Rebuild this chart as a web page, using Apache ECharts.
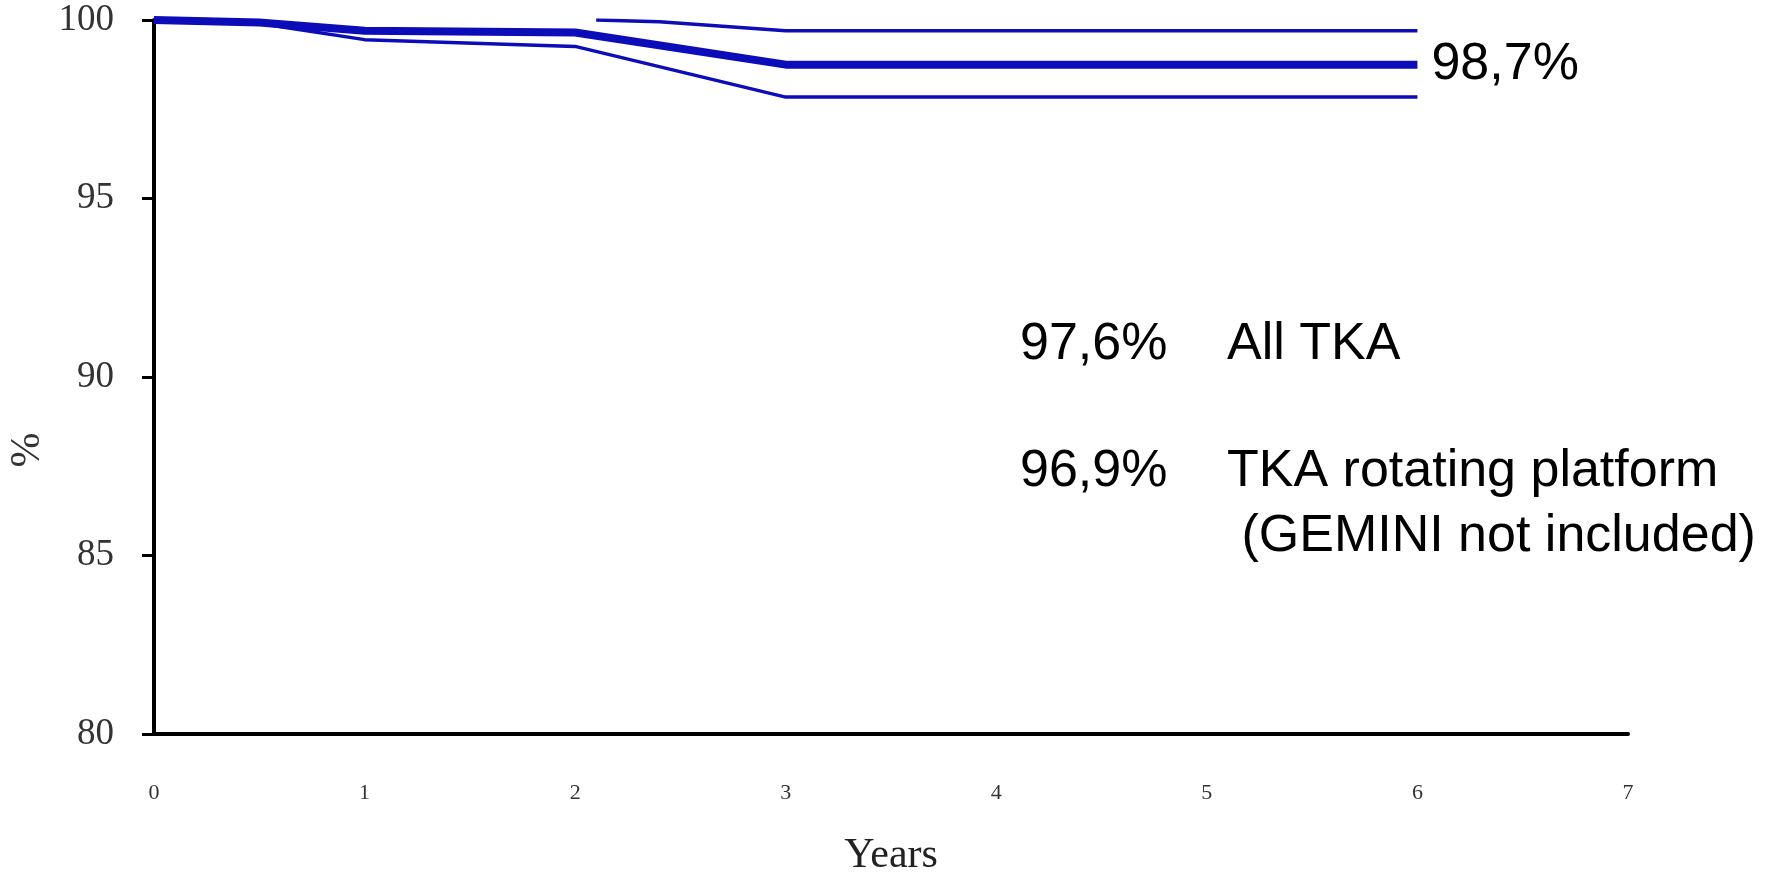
<!DOCTYPE html>
<html>

<head>
    <meta charset="utf-8">
    <script src="https://cdn.jsdelivr.net/npm/echarts@6/dist/echarts.min.js"></script>
    <style type="text/css">
        html, body { margin: 0; padding: 0; background: #fff; }
        #main { width: 1785px; height: 873px; }
    </style>
</head>

<body>
    <div id="main"></div>
    <script>
        // survival curve (thick) with its confidence limits
        var yearsKM = [0, 0.5, 1, 2, 3, 6];
        var survivalKM = [100, 99.93, 99.7, 99.65, 98.75, 98.75];
        var yearsLower = [0, 0.5, 1, 2, 3, 6];
        var survivalLower = [100, 99.9, 99.45, 99.26, 97.84, 97.84];
        var yearsUpper = [2.1, 2.4, 3, 6];
        var survivalUpper = [100, 99.95, 99.7, 99.7];

        var endText = '98,7%';
        var notes = [
            ['97,6%', 'All TKA'],
            ['96,9%', 'TKA rotating platform'],
            ['', ' (GEMINI not included)']
        ];

        function pairs(xs, ys) {
            return xs.map(function (x, i) { return [x, ys[i]]; });
        }

        var blue = '#0c0cb8';
        var sans = '"Liberation Sans", Arial, sans-serif';
        var serif = '"Liberation Serif", "Times New Roman", serif';

        var myChart = echarts.init(document.getElementById('main'));

        var graphics = [{
            type: 'text',
            x: 28, y: 450, rotation: Math.PI / 2,
            style: { text: '%', fontSize: 42, fontFamily: serif, fill: '#333', align: 'center', verticalAlign: 'middle' }
        }];
        var noteY = [345, 472, 537];
        notes.forEach(function (n, i) {
            if (n[0]) {
                graphics.push({
                    type: 'text', x: 1020, y: noteY[i],
                    style: { text: n[0], fontSize: 52, fontFamily: sans, fill: '#000', verticalAlign: 'middle' }
                });
            }
            graphics.push({
                type: 'text', x: 1227, y: noteY[i],
                style: { text: n[1], fontSize: 52, fontFamily: sans, fill: '#000', verticalAlign: 'middle' }
            });
        });

        var option = {
            animation: false,
            grid: { left: 154, right: 157, top: 20, bottom: 139, containLabel: false, outerBoundsMode: 'none' },
            xAxis: {
                type: 'value',
                min: 0, max: 7, interval: 1,
                name: 'Years',
                nameLocation: 'middle',
                nameGap: 101,
                nameTextStyle: { fontSize: 42, fontFamily: serif, color: '#222' },
                axisLine: { show: true, lineStyle: { color: '#000', width: 4 } },
                axisTick: { show: false },
                splitLine: { show: false },
                axisLabel: { fontSize: 22, fontFamily: serif, color: '#333', margin: 48 }
            },
            yAxis: {
                type: 'value',
                min: 80, max: 100, interval: 5,
                axisLine: { show: true, lineStyle: { color: '#000', width: 4 } },
                axisTick: { show: true, length: 12, lineStyle: { color: '#000', width: 3 } },
                splitLine: { show: false },
                axisLabel: { fontSize: 37, fontFamily: serif, color: '#333', margin: 40 }
            },
            series: [{
                type: 'line',
                data: pairs(yearsLower, survivalLower),
                symbol: 'none',
                lineStyle: { color: blue, width: 3.5 }
            }, {
                type: 'line',
                data: pairs(yearsUpper, survivalUpper),
                symbol: 'none',
                lineStyle: { color: blue, width: 3.5 }
            }, {
                type: 'line',
                data: pairs(yearsKM, survivalKM),
                symbol: 'none',
                lineStyle: { color: blue, width: 8 },
                endLabel: {
                    show: true,
                    formatter: endText,
                    distance: 14,
                    fontSize: 52,
                    fontFamily: sans,
                    color: '#000'
                }
            }],
            graphic: graphics
        };
        myChart.setOption(option);
    </script>
</body>

</html>
